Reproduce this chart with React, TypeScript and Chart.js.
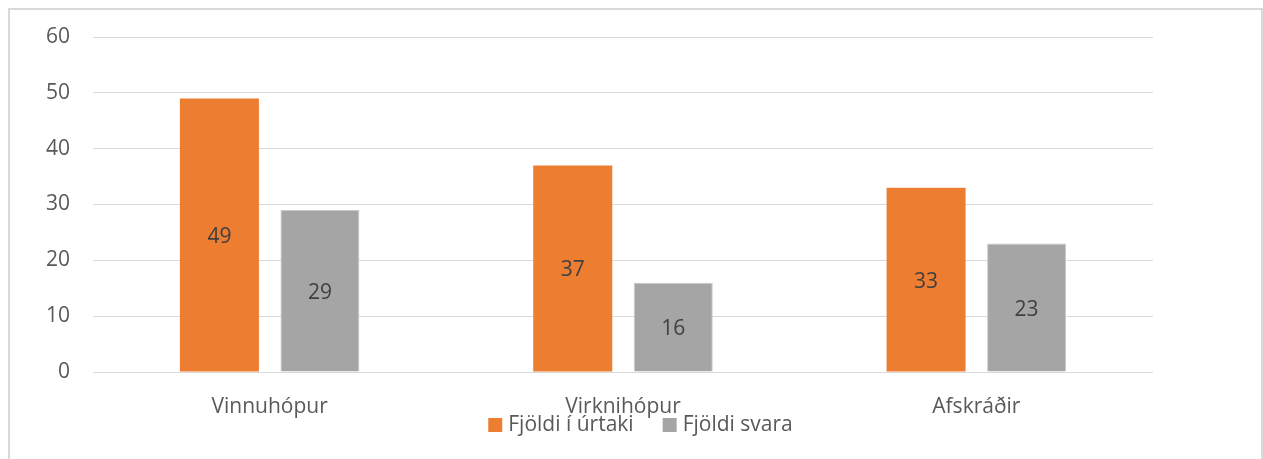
import React, { useEffect, useRef } from "react";
import { Chart, registerables } from "chart.js";

Chart.register(...registerables);

const categories = ["Vinnuhópur", "Virknihópur", "Afskráðir"];
const seriesNames = ["Fjöldi í úrtaki", "Fjöldi svara"];
const sampleValues = [49, 37, 33];
const answerValues = [29, 16, 23];
const yTicks = [0, 10, 20, 30, 40, 50, 60];
const seriesColors = ["#ED7D31", "#A5A5A5"];

const FONT = "'Open Sans', 'Noto Sans', sans-serif";
const FS = 21;

const valueLabels = {
  id: "valueLabels",
  afterDatasetsDraw(chart: any) {
    const ctx = chart.ctx;
    ctx.save();
    ctx.font = `${FS}px ${FONT}`;
    ctx.fillStyle = "#404040";
    ctx.textAlign = "center";
    ctx.textBaseline = "middle";
    chart.data.datasets.forEach((ds: any, di: number) => {
      const meta = chart.getDatasetMeta(di);
      meta.data.forEach((bar: any, i: number) => {
        const y = (bar.y + bar.base) / 2 + 2;
        ctx.fillText(String(ds.data[i]), bar.x, y);
      });
    });
    ctx.restore();
  },
};

const customLegend = {
  id: "customLegend",
  afterDraw(chart: any) {
    const ctx = chart.ctx;
    ctx.save();
    ctx.font = `${FS}px ${FONT}`;
    ctx.textBaseline = "middle";
    ctx.textAlign = "left";
    const box = 14;
    const gapText = 6;
    const gapItem = 29;
    const items = chart.data.datasets.map((ds: any) => ({
      label: ds.label,
      color: ds.backgroundColor,
      w: ctx.measureText(ds.label).width,
    }));
    let total = 0;
    items.forEach((it: any, i: number) => {
      total += box + gapText + it.w + (i < items.length - 1 ? gapItem : 0);
    });
    const cx = chart.width / 2 + 5;
    let x = cx - total / 2;
    const y = chart.chartArea.bottom + 53;
    items.forEach((it: any) => {
      ctx.fillStyle = it.color;
      ctx.fillRect(x, y - box / 2, box, box);
      x += box + gapText;
      ctx.fillStyle = "#595959";
      ctx.fillText(it.label, x, y);
      x += it.w + gapItem;
    });
    ctx.restore();
  },
};

export default function App() {
  const ref = useRef<HTMLCanvasElement | null>(null);
  useEffect(() => {
    document.body.style.overflow = "hidden";
    const chart = new Chart(ref.current as HTMLCanvasElement, {
      type: "bar",
      data: {
        labels: categories,
        datasets: [
          {
            label: seriesNames[0],
            data: sampleValues,
            backgroundColor: seriesColors[0],
            categoryPercentage: 0.569,
            barPercentage: 0.786,
          },
          {
            label: seriesNames[1],
            data: answerValues,
            backgroundColor: seriesColors[1],
            borderColor: "#C8C8C8",
            borderWidth: 1,
            categoryPercentage: 0.569,
            barPercentage: 0.786,
          },
        ],
      },
      options: {
        animation: false,
        responsive: true,
        maintainAspectRatio: false,
        layout: { padding: { top: 27, right: 108, bottom: 40, left: 0 } },
        plugins: {
          legend: { display: false },
          tooltip: { enabled: false },
        },
        scales: {
          x: {
            grid: { display: false, drawTicks: false },
            border: { display: false },
            afterFit(scale: any) {
              scale.height = 47;
              scale.paddingLeft = 0;
              scale.paddingRight = 0;
            },
            ticks: {
              font: { family: FONT, size: FS },
              color: "#595959",
              padding: 22,
            },
          },
          y: {
            min: 0,
            max: 60,
            afterBuildTicks(scale: any) {
              scale.ticks = yTicks.map((v) => ({ value: v }));
            },
            afterFit(scale: any) {
              scale.width = 83;
              scale.paddingTop = 0;
              scale.paddingBottom = 0;
            },
            grid: { color: "#D9D9D9", lineWidth: 1, drawTicks: false },
            border: { display: false },
            ticks: {
              font: { family: FONT, size: FS },
              color: "#595959",
              padding: 23,
            },
          },
        },
      },
      plugins: [valueLabels, customLegend],
    } as any);
    return () => chart.destroy();
  }, []);
  return (
    <div
      style={{
        position: "absolute",
        left: 8,
        top: 8,
        width: 1255,
        height: 451,
        boxSizing: "border-box",
        border: "2px solid #D9D9D9",
        borderBottom: "none",
        background: "#fff",
      }}
    >
      <div style={{ position: "relative", width: "100%", height: "100%" }}>
        <canvas ref={ref} />
      </div>
    </div>
  );
}
